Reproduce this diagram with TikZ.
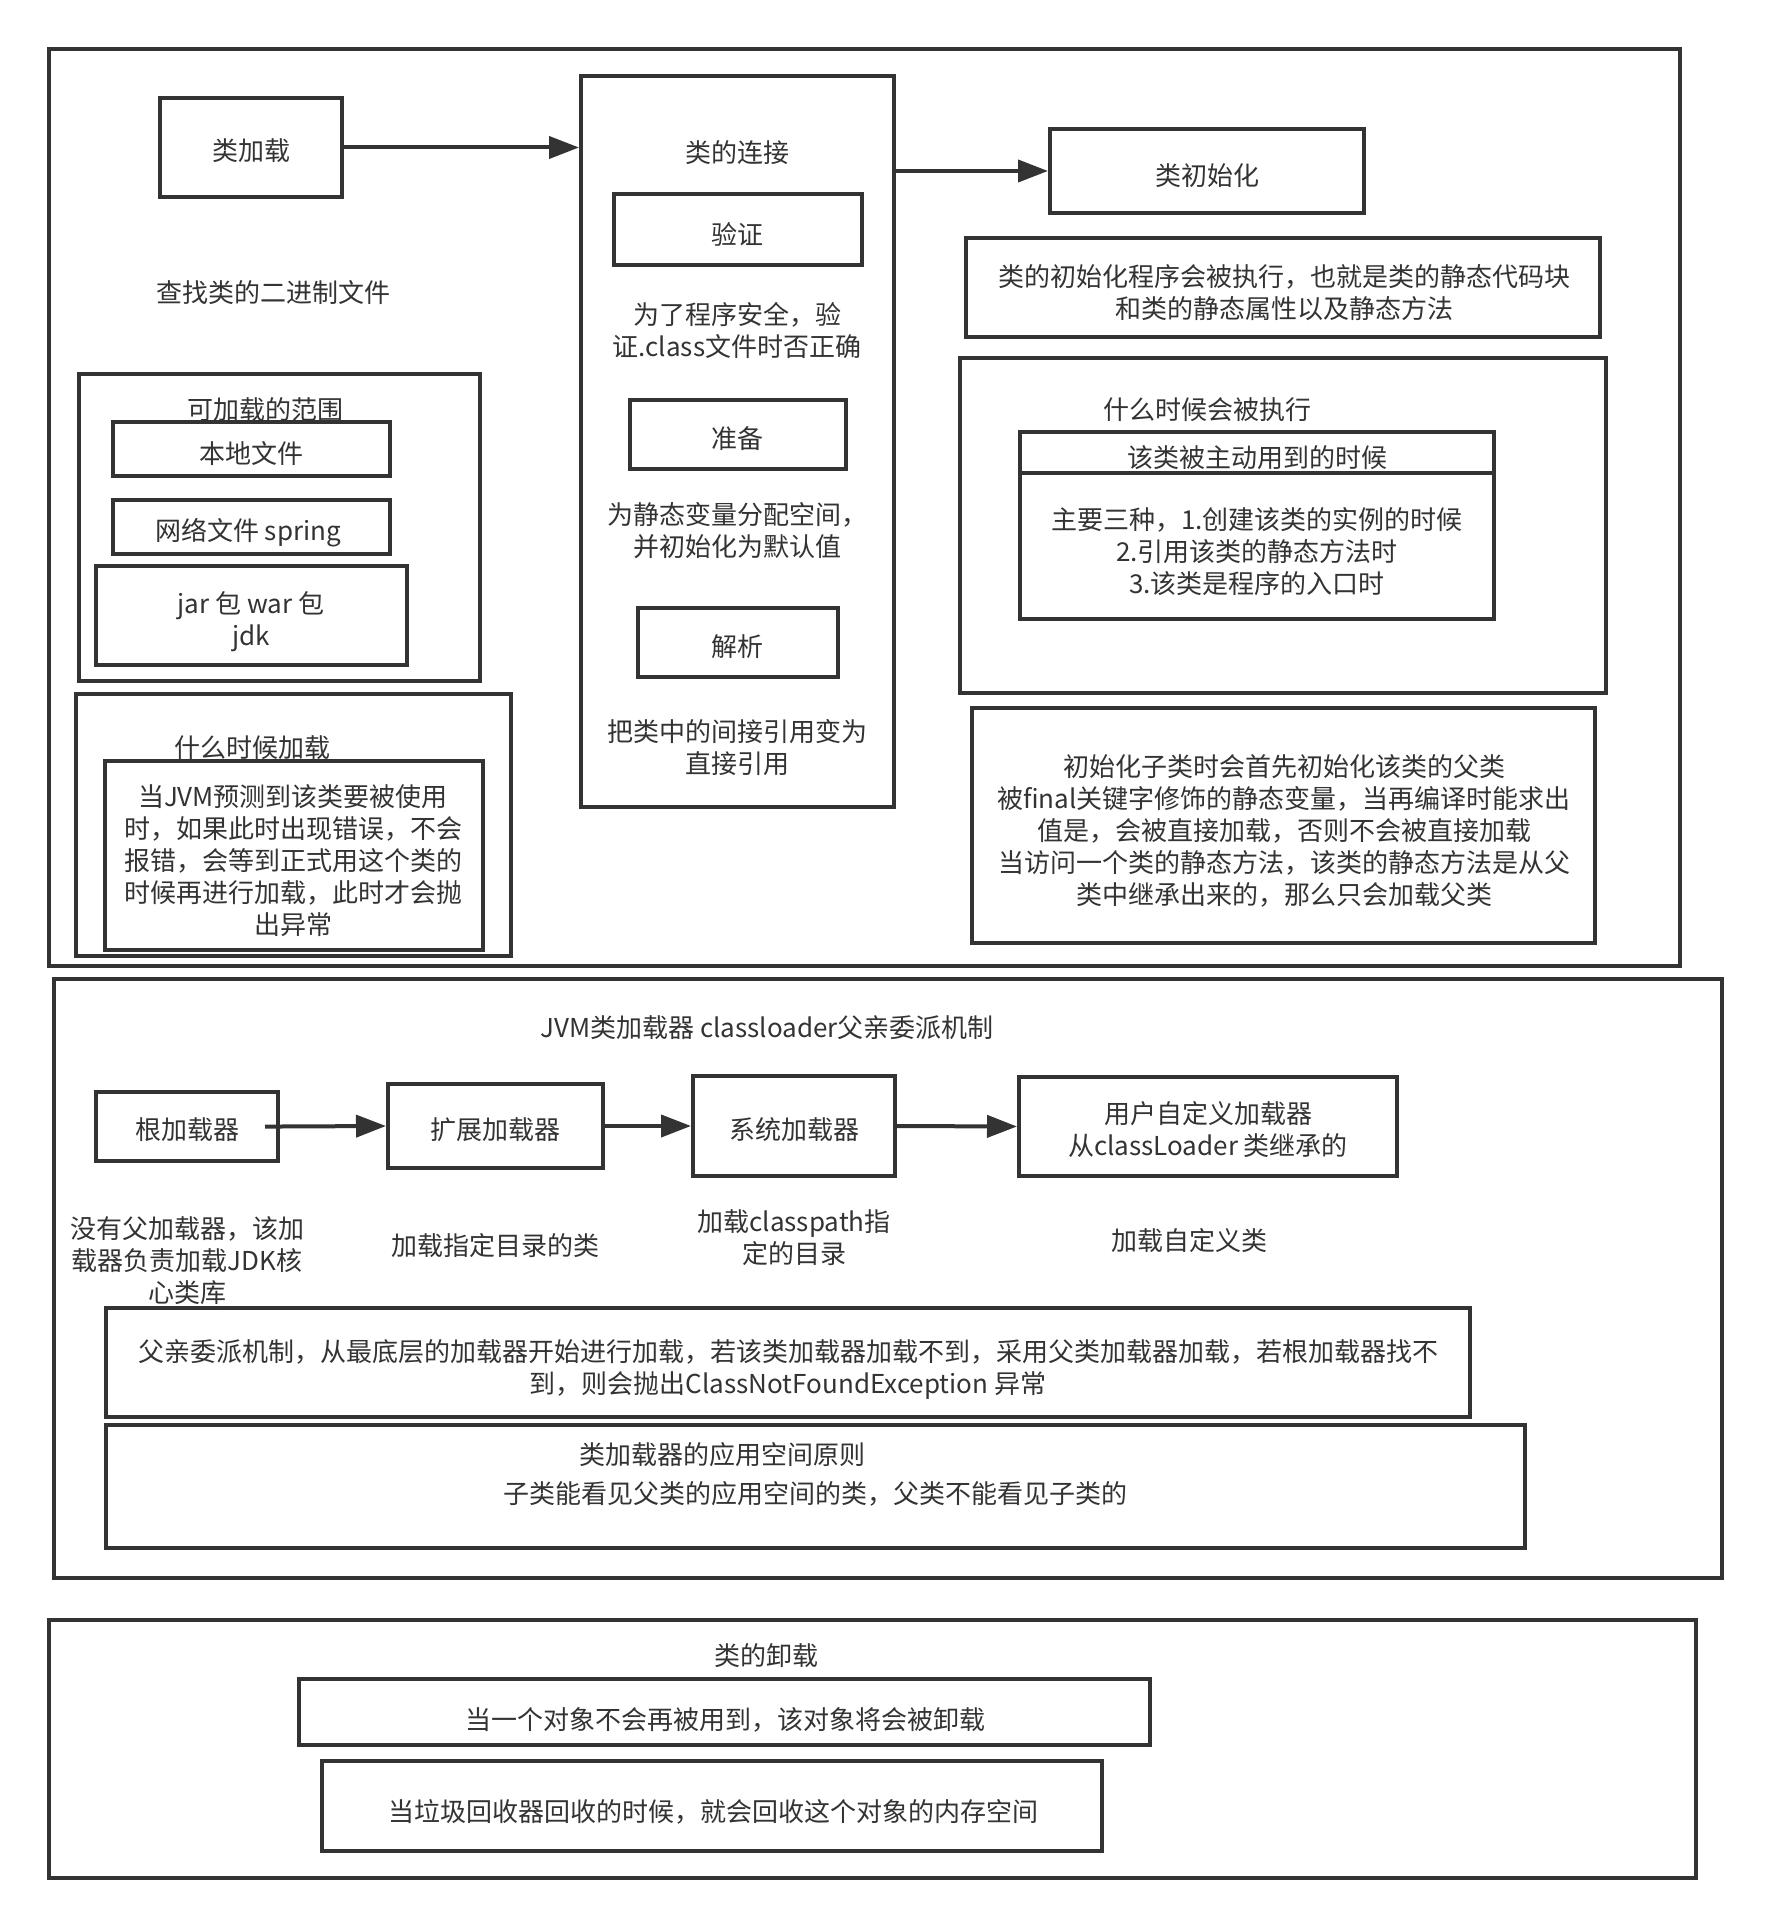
\documentclass[tikz,border=0pt]{standalone}
\usepackage{fontspec}
\setmainfont{Noto Sans CJK SC}
\usetikzlibrary{arrows.meta,fit,calc}
\definecolor{ink}{HTML}{333333}
\newcommand\fs{\fontsize{13pt}{16pt}\selectfont}
\begin{document}
\begin{tikzpicture}[x=0.5pt,y=-0.5pt,
  box/.style={draw=ink, line width=2pt, inner sep=0pt, rectangle},
  lbl/.style={text=ink, font=\fs, align=center, inner sep=0pt, yshift=-1.5pt},
  arr/.style={draw=ink, line width=2pt, -{Triangle[length=15pt,width=11pt]}}]
\useasboundingbox[fill=white] (0,0) rectangle (1770,1930);

% ---------- class loading stages ----------
\node[box, fit={(49,49) (1680,966)}] (stages) {};

\node[box, fit={(160,98) (342,197)}] (load) {};
\node[lbl] (loadT) at (251,148) {类加载};
\node[lbl] (find) at (273,290) {查找类的二进制文件};

\node[box, fit={(79,374) (480,681)}] (range) {};
\node[lbl] (rangeT) at (265,407) {可加载的范围};
\node[box, fit={(113,422) (390,476)}] (local) {};
\node[lbl] (localT) at (251,451) {本地文件};
\node[box, fit={(113,500) (390,554)}] (net) {};
\node[lbl] (netT) at (248,530) {网络文件 spring};
\node[box, fit={(96,566) (407,665)}] (jar) {};
\node[lbl] (jarT) at (251,619) {jar 包 war 包\\jdk};

\node[box, fit={(76,694) (511,956)}] (when) {};
\node[lbl] (whenT) at (252,745) {什么时候加载};
\node[box, fit={(105,761) (483,950)}] (whenB) {};
\node[lbl] (whenBT) at (293,858) {当JVM预测到该类要被使用\\时，如果此时出现错误，不会\\报错，会等到正式用这个类的\\时候再进行加载，此时才会抛\\出异常};

\node[box, fit={(581,76) (894,807)}] (link) {};
\node[lbl] (linkT) at (737,150) {类的连接};
\node[box, fit={(614,194) (862,265)}] (verify) {};
\node[lbl] (verifyT) at (737,231) {验证};
\node[lbl] (verifyD) at (737,327) {为了程序安全，验\\证.class文件时否正确};
\node[box, fit={(630,400) (846,469)}] (prep) {};
\node[lbl] (prepT) at (737,436) {准备};
\node[lbl] (prepD) at (737,528) {为静态变量分配空间，\\并初始化为默认值};
\node[box, fit={(638,608) (838,677)}] (resolve) {};
\node[lbl] (resolveT) at (737,644) {解析};
\node[lbl] (resolveD) at (737,745) {把类中的间接引用变为\\直接引用};

\node[box, fit={(1050,129) (1364,213)}] (init) {};
\node[lbl] (initT) at (1207,173) {类初始化};
\node[box, fit={(966,238) (1600,337)}] (initA) {};
\node[lbl] (initAT) at (1284,290) {类的初始化程序会被执行，也就是类的静态代码块\\和类的静态属性以及静态方法};
\node[box, fit={(960,358) (1606,693)}] (exec) {};
\node[lbl] (execT) at (1207,407) {什么时候会被执行};
\node[box, fit={(1020,432) (1494,619)}] (active) {};
\coordinate (hl) at (1020,473);
\draw[draw=ink, line width=2pt] (hl) -- (hl -| active.east);
\node[lbl] (activeT) at (1257,455) {该类被主动用到的时候};
\node[lbl] (activeB) at (1257,549) {主要三种，1.创建该类的实例的时候\\2.引用该类的静态方法时\\3.该类是程序的入口时};
\node[box, fit={(972,708) (1595,943)}] (note) {};
\node[lbl] (noteT) at (1284,828) {初始化子类时会首先初始化该类的父类\\被final关键字修饰的静态变量，当再编译时能求出\\值是，会被直接加载，否则不会被直接加载\\当访问一个类的静态方法，该类的静态方法是从父\\类中继承出来的，那么只会加载父类};

\draw[arr] (load.east) -- (load.east -| link.west);
\draw[arr] (init.west -| link.east) -- (init.west);

% ---------- class loaders ----------
\node[box, fit={(54,979) (1722,1578)}] (loaders) {};
\node[lbl] (loadersT) at (767,1025) {JVM类加载器 classloader父亲委派机制};

\node[box, fit={(96,1092) (278,1161)}] (root) {};
\node[lbl] (rootT) at (187,1127) {根加载器};
\node[box, fit={(388,1084) (603,1168)}] (ext) {};
\node[lbl] (extT) at (495,1127) {扩展加载器};
\node[box, fit={(693,1076) (895,1176)}] (sys) {};
\node[lbl] (sysT) at (794,1127) {系统加载器};
\node[box, fit={(1019,1077) (1397,1176)}] (user) {};
\node[lbl] (userT) at (1208,1127) {用户自定义加载器\\从classLoader 类继承的};

\draw[arr, shorten <=-7.5pt] (root.east) -- (ext.west);
\draw[arr] (ext.east) -- (sys.west);
\draw[arr] (sys.east) -- (user.west);

\node[lbl] (rootD) at (187,1258) {没有父加载器，该加\\载器负责加载JDK核\\心类库};
\node[lbl] (extD) at (495,1243) {加载指定目录的类};
\node[lbl] (sysD) at (794,1235) {加载classpath指\\定的目录};
\node[lbl] (userD) at (1189,1238) {加载自定义类};

\node[box, fit={(106,1308) (1470,1417)}] (deleg) {};
\node[lbl] (delegT) at (788,1366) {父亲委派机制，从最底层的加载器开始进行加载，若该类加载器加载不到，采用父类加载器加载，若根加载器找不\\到，则会抛出ClassNotFoundException 异常};
\node[box, fit={(106,1425) (1525,1548)}] (space) {};
\node[lbl] (spaceT) at (722,1452) {类加载器的应用空间原则};
\node[lbl] (spaceD) at (815,1491) {子类能看见父类的应用空间的类，父类不能看见子类的};

% ---------- class unloading ----------
\node[box, fit={(49,1620) (1696,1878)}] (unload) {};
\node[lbl] (unloadT) at (766,1653) {类的卸载};
\node[box, fit={(299,1679) (1150,1745)}] (un1) {};
\node[lbl] (un1T) at (725,1717) {当一个对象不会再被用到，该对象将会被卸载};
\node[box, fit={(322,1761) (1102,1851)}] (un2) {};
\node[lbl] (un2T) at (713,1809) {当垃圾回收器回收的时候，就会回收这个对象的内存空间};
\end{tikzpicture}
\end{document}
